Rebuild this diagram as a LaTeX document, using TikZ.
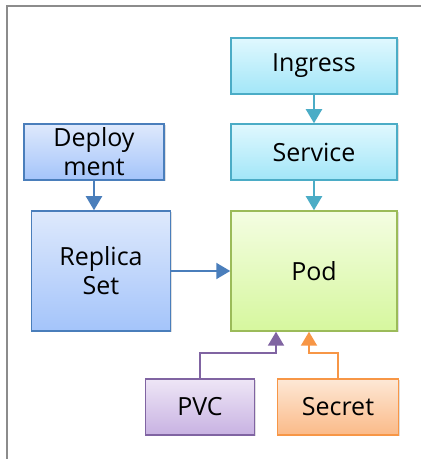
\documentclass[tikz,border=0pt]{standalone}
\usepackage{fontspec}
\setmainfont{Open Sans}
\usepackage{tikz}
\usetikzlibrary{arrows.meta, calc, shadows}
\definecolor{deployline}{RGB}{74, 126, 187}
\definecolor{deploytop}{RGB}{222, 233, 252}
\definecolor{deploybot}{RGB}{164, 196, 250}
\definecolor{svcline}{RGB}{75, 172, 198}
\definecolor{svctop}{RGB}{224, 248, 254}
\definecolor{svcbot}{RGB}{162, 230, 248}
\definecolor{podline}{RGB}{155, 187, 89}
\definecolor{podtop}{RGB}{244, 253, 226}
\definecolor{podbot}{RGB}{214, 247, 158}
\definecolor{pvcline}{RGB}{128, 100, 162}
\definecolor{pvctop}{RGB}{238, 230, 246}
\definecolor{pvcbot}{RGB}{200, 178, 226}
\definecolor{secretline}{RGB}{247, 150, 70}
\definecolor{secrettop}{RGB}{253, 232, 214}
\definecolor{secretbot}{RGB}{251, 186, 136}
\definecolor{framegray}{RGB}{140, 140, 140}

\begin{document}
\begin{tikzpicture}[x=1pt, y=1pt,
        box/.style={draw=#1line, line width=1.5pt, top color=#1top, bottom color=#1bot,
            align=center, font=\fontsize{25}{29}\selectfont, inner sep=0pt,
            drop shadow={shadow xshift=1.5pt, shadow yshift=-1.5pt, opacity=0.25}},
        link/.style={draw=#1line, line width=2pt, -{Triangle[width=16pt, length=14pt]}}]
        \useasboundingbox (0,0) rectangle (421,459);

        % frame
        \draw[framegray, line width=2pt] (7,0) -- (7,453) -- (421,453);

        % right column
        \node[box=svc, minimum width=166pt, minimum height=56pt] (ingress) at (314,393) {Ingress};
        \node[box=svc, minimum width=166pt, minimum height=56pt] (service) at (314,307) {Service};
        \node[box=pod, minimum width=166pt, minimum height=120pt] (pod) at (314,188) {Pod};

        % left column
        \node[box=deploy, minimum width=140pt, minimum height=56pt] (deploy) at (94,307) {Deploy\\ment};
        \node[box=deploy, minimum width=139pt, minimum height=120pt] (rs) at (101,188) {Replica\\Set};

        % bottom row
        \node[box=pvc, minimum width=109pt, minimum height=56pt] (pvc) at (200,52) {PVC};
        \node[box=secret, minimum width=121pt, minimum height=56pt] (secret) at (338,52) {Secret};

        % links
        \draw[link=svc] (ingress) -- (service);
        \draw[link=svc] (service) -- (pod);
        \draw[link=deploy] (deploy.south) -- (deploy.south |- rs.north);
        \draw[link=deploy] (rs) -- (pod);
        \draw[link=pvc] (pvc.north) -- ++(0,25) -| ($(pod.south)+(-38,0)$);
        \draw[link=secret] (secret.north) -- ++(0,25) -| ($(pod.south)+(-5,0)$);
    \end{tikzpicture}
\end{document}
